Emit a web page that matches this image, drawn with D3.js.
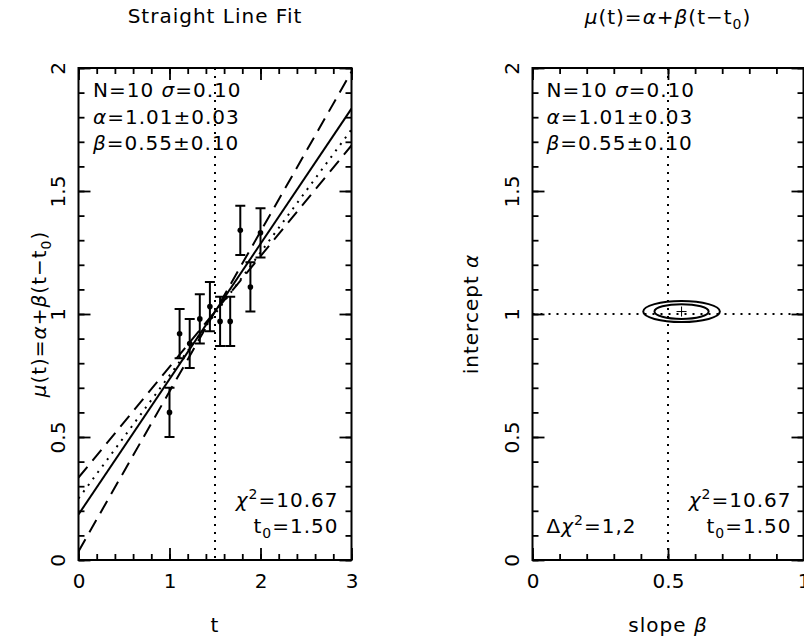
<!DOCTYPE html>
<html>
<head>
<meta charset="utf-8">
<script src="https://cdn.jsdelivr.net/npm/d3@7"></script>
<style>
  body { margin: 0; background: #fff; }
  svg { display: block; font-family: 'DejaVu Sans', sans-serif; }
</style>
</head>
<body>
<div id="chart"></div>
<script>
// observations (t, mu) with a common error
const tObs = [1.000, 1.111, 1.222, 1.333, 1.444, 1.556, 1.667, 1.778, 1.889, 2.000];
const muObs = [0.60, 0.92, 0.88, 0.98, 1.03, 0.97, 0.97, 1.34, 1.11, 1.33];
const sigma = 0.10;

// fit results, and the model the data came from
const t0 = 1.50;
const fitAlpha = 1.01;
const fitBeta = 0.55;
const errAlpha = 0.03;
const errBeta = 0.10;
const trueAlpha = 1.00;
const trueBeta = 0.50;
const chi2Levels = [1, 2];

// tick labels
const tTicks = [0, 1, 2, 3];
const muTicks = [0, 0.5, 1, 1.5, 2];
const betaTicks = [0, 0.5, 1];
const alphaTicks = [0, 0.5, 1, 1.5, 2];

const width = 804, height = 644;
const yTop = 68, yBottom = 560;
const fontSize = 20;

const svg = d3.select('#chart').append('svg')
  .attr('width', width)
  .attr('height', height);

svg.append('rect').attr('width', width).attr('height', height).attr('fill', '#fff');

// text with italic greek, sub and superscripts
const rich = (sel, parts) => {
  let shift = 0;
  parts.forEach(p => {
    const [str, kind] = Array.isArray(p) ? p : [p, null];
    const target = kind === 'sup' ? -8 : kind === 'sub' ? 5 : 0;
    const ts = sel.append('tspan').attr('dy', target - shift).text(str);
    shift = target;
    if (kind === 'i') ts.attr('font-style', 'italic');
    if (kind === 'sup' || kind === 'sub') ts.attr('font-size', 14);
  });
  return sel;
};

// the plot package sets its characters a little wider than DejaVu does
const label = (x, y, anchor, parts) =>
  rich(svg.append('text')
    .attr('x', x).attr('y', y)
    .attr('text-anchor', anchor)
    .attr('letter-spacing', 1)
    .attr('font-size', fontSize), parts);

// inward ticks on all four sides, labels on bottom and left only
const drawFrame = (x, y, xMajor, xStep, yMajor, yStep) => {
  const [x0, x1] = x.range();
  const xd = x.domain(), yd = y.domain();
  const xMinor = d3.range(xd[0], xd[1] + 1e-9, xStep);
  const yMinor = d3.range(yd[0], yd[1] + 1e-9, yStep);

  const put = (axis, tx, ty) => {
    const g = svg.append('g').attr('transform', `translate(${tx},${ty})`).call(axis);
    g.select('.domain').remove();
    g.attr('font-size', fontSize).attr('font-family', null)
      .selectAll('line').attr('stroke', '#000').attr('stroke-width', 1.8);
    return g;
  };

  put(d3.axisBottom(x).tickValues(xMinor).tickSize(-6).tickFormat(''), 0, yBottom);
  put(d3.axisTop(x).tickValues(xMinor).tickSize(-6).tickFormat(''), 0, yTop);
  put(d3.axisTop(x).tickValues(xMajor).tickSize(-12).tickFormat(''), 0, yTop);
  put(d3.axisLeft(y).tickValues(yMinor).tickSize(-6).tickFormat(''), x0, 0);
  put(d3.axisRight(y).tickValues(yMinor).tickSize(-6).tickFormat(''), x1, 0);
  put(d3.axisRight(y).tickValues(yMajor).tickSize(-12).tickFormat(''), x1, 0);

  put(d3.axisBottom(x).tickValues(xMajor).tickSize(-12).tickFormat(d => `${d}`), 0, yBottom)
    .selectAll('text')
    .attr('y', 28).attr('dy', null).attr('fill', '#000');

  put(d3.axisLeft(y).tickValues(yMajor).tickSize(-12).tickFormat(d => `${d}`), x0, 0)
    .selectAll('text')
    .attr('transform', 'rotate(-90)')
    .attr('x', 0).attr('y', -14).attr('dy', null)
    .attr('text-anchor', 'middle').attr('fill', '#000');

  svg.append('rect')
    .attr('x', x0).attr('y', yTop)
    .attr('width', x1 - x0).attr('height', yBottom - yTop)
    .attr('fill', 'none').attr('stroke', '#000').attr('stroke-width', 2);
};

const dotted = '2,6';
const dashed = '14,8';

// ---------- left panel: data and fitted lines ----------
const xT = d3.scaleLinear().domain([0, 3]).range([78.5, 351.5]);
const yMu = d3.scaleLinear().domain([0, 2]).range([yBottom, yTop]);

svg.append('clipPath').attr('id', 'clipL')
  .append('rect')
  .attr('x', xT.range()[0]).attr('y', yTop)
  .attr('width', xT.range()[1] - xT.range()[0]).attr('height', yBottom - yTop);

const plotL = svg.append('g').attr('clip-path', 'url(#clipL)');

const model = (alpha, beta) => t => alpha + beta * (t - t0);
const lineOf = f => d3.line().x(t => xT(t)).y(t => yMu(f(t)))(xT.domain());

const fitLines = [
  {f: model(fitAlpha, fitBeta), dash: null},
  {f: model(fitAlpha, fitBeta + errBeta), dash: dashed},
  {f: model(fitAlpha, fitBeta - errBeta), dash: dashed},
  {f: model(trueAlpha, trueBeta), dash: dotted},
];

fitLines.forEach(l => {
  plotL.append('path')
    .attr('d', lineOf(l.f))
    .attr('fill', 'none')
    .attr('stroke', '#000')
    .attr('stroke-width', 2)
    .attr('stroke-dasharray', l.dash);
});

plotL.append('line')
  .attr('x1', xT(t0)).attr('x2', xT(t0))
  .attr('y1', yTop).attr('y2', yBottom)
  .attr('stroke', '#000').attr('stroke-width', 2)
  .attr('stroke-dasharray', dotted);

const obs = tObs.map((t, i) => ({t, mu: muObs[i]}));

const bars = plotL.selectAll('g.obs').data(obs).join('g').attr('class', 'obs')
  .attr('stroke', '#000').attr('stroke-width', 2);
bars.append('line')
  .attr('x1', d => xT(d.t)).attr('x2', d => xT(d.t))
  .attr('y1', d => yMu(d.mu - sigma)).attr('y2', d => yMu(d.mu + sigma));
[-sigma, sigma].forEach(s => {
  bars.append('line')
    .attr('x1', d => xT(d.t) - 5).attr('x2', d => xT(d.t) + 5)
    .attr('y1', d => yMu(d.mu + s)).attr('y2', d => yMu(d.mu + s));
});
plotL.selectAll('circle').data(obs).join('circle')
  .attr('cx', d => xT(d.t)).attr('cy', d => yMu(d.mu))
  .attr('r', 2.8).attr('fill', '#000');

drawFrame(xT, yMu, tTicks, 0.2, muTicks, 0.1);

// ---------- right panel: error ellipses in (beta, alpha) ----------
const xB = d3.scaleLinear().domain([0, 1]).range([532.5, 803.5]);
const yA = d3.scaleLinear().domain([0, 2]).range([yBottom, yTop]);

svg.append('line')
  .attr('x1', xB(trueBeta)).attr('x2', xB(trueBeta))
  .attr('y1', yTop).attr('y2', yBottom)
  .attr('stroke', '#000').attr('stroke-width', 2).attr('stroke-dasharray', dotted);
svg.append('line')
  .attr('x1', xB.range()[0]).attr('x2', xB.range()[1])
  .attr('y1', yA(trueAlpha)).attr('y2', yA(trueAlpha))
  .attr('stroke', '#000').attr('stroke-width', 2).attr('stroke-dasharray', dotted);

svg.selectAll('ellipse').data(chi2Levels).join('ellipse')
  .attr('cx', xB(fitBeta)).attr('cy', yA(fitAlpha))
  .attr('rx', d => xB(fitBeta + errBeta * Math.sqrt(d)) - xB(fitBeta))
  .attr('ry', d => yA(fitAlpha) - yA(fitAlpha + errAlpha * Math.sqrt(d)))
  .attr('fill', 'none').attr('stroke', '#000').attr('stroke-width', 2);

const cx = xB(fitBeta), cy = yA(fitAlpha);
svg.append('path')
  .attr('d', `M${cx - 5},${cy}H${cx + 5}M${cx},${cy - 5}V${cy + 5}`)
  .attr('stroke', '#000').attr('stroke-width', 1);

drawFrame(xB, yA, betaTicks, 0.1, alphaTicks, 0.1);

// ---------- titles and annotations ----------
const cL = d3.mean(xT.range()), cR = d3.mean(xB.range());
const muLabel = [['μ', 'i'], '(t)=', ['α', 'i'], '+', ['β', 'i'], '(t−t', ['0', 'sub'], ')'];

label(cL, 23, 'middle', ['Straight Line Fit']);
label(cR, 24, 'middle', muLabel);
label(cL, 632, 'middle', ['t']);
label(cR, 632, 'middle', ['slope ', ['β', 'i']]);

rich(svg.append('text')
  .attr('transform', `translate(46,${(yTop + yBottom) / 2}) rotate(-90)`)
  .attr('text-anchor', 'middle').attr('letter-spacing', 1)
  .attr('font-size', fontSize), muLabel);
rich(svg.append('text')
  .attr('transform', `translate(478,${(yTop + yBottom) / 2}) rotate(-90)`)
  .attr('text-anchor', 'middle').attr('letter-spacing', 1)
  .attr('font-size', fontSize), ['intercept ', ['α', 'i']]);

const infoLines = [
  [`N=${tObs.length} `, ['σ', 'i'], `=${sigma.toFixed(2)}`],
  [['α', 'i'], `=${fitAlpha.toFixed(2)}±${errAlpha.toFixed(2)}`],
  [['β', 'i'], `=${fitBeta.toFixed(2)}±${errBeta.toFixed(2)}`],
];
[xT.range()[0] + 14.5, xB.range()[0] + 14].forEach(x0 => {
  infoLines.forEach((parts, i) => label(x0, 97 + i * 26.5, 'start', parts));
});

[xT.range()[1] - 13, xB.range()[1] - 12].forEach(x1 => {
  label(x1, 507, 'end', [['χ', 'i'], ['2', 'sup'], '=10.67']);
  label(x1, 533, 'end', ['t', ['0', 'sub'], `=${t0.toFixed(2)}`]);
});
label(xB.range()[0] + 14, 533, 'start', ['Δ', ['χ', 'i'], ['2', 'sup'], `=${chi2Levels.join(',')}`]);
</script>
</body>
</html>
